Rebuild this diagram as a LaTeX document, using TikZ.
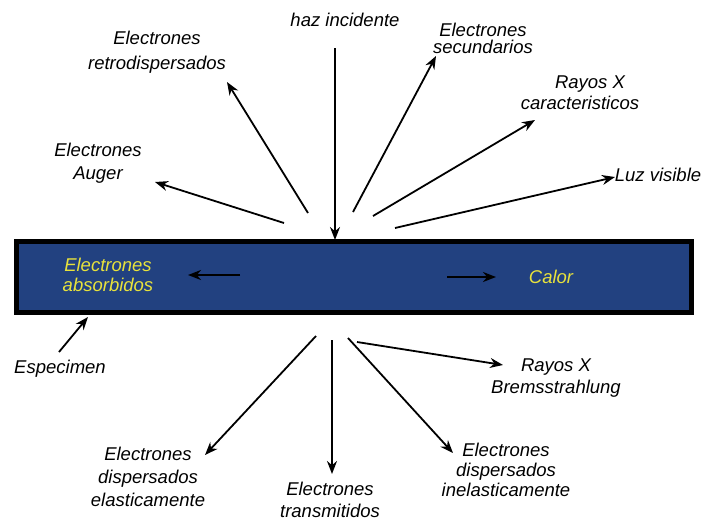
\documentclass[tikz,border=0pt]{standalone}
\usepackage{fontspec}
\setmainfont{Liberation Sans}
\usetikzlibrary{positioning, arrows.meta}
\definecolor{muestra}{RGB}{34,65,128}
\definecolor{amarillo}{RGB}{232,226,60}
\newcommand{\lblfont}{\fontsize{18.5}{21}\selectfont\itshape}

\begin{document}
\begin{tikzpicture}
		[x=1pt,y=-1pt,->,>={Stealth[length=13pt,width=10pt]},line width=1.8pt,
		lbl/.style={font=\lblfont,align=center,inner sep=0pt,anchor=base},
		specimen/.style={draw,line width=5pt,fill=muestra,minimum width=675pt,minimum height=71pt,inner sep=0pt}]
		\useasboundingbox (0,0) rectangle (713,520);
		% la muestra
		\node[specimen] (spec) at (354,277) {};
		
		% etiquetas (anclas en la linea base de la ultima linea)
		\node[lbl] (haz) at (345,26.5) {haz incidente};
		\node[lbl] (retro) at (157,69.5) {Electrones\\[4pt]retrodispersados};
		\node[lbl] (secun) at (483,53.5) {Electrones\\[-4pt]secundarios};
		\node[lbl] (rayosc) at (580,109.5) {\hspace*{20pt}Rayos X\\caracteristicos};
		\node[lbl] (luz) at (658,181.5) {Luz visible};
		\node[lbl] (auger) at (98,179.5) {Electrones\\[2pt]Auger};
		\node[lbl,text=amarillo] (absor) at (108,291.5) {Electrones\\[-1pt]absorbidos};
		\node[lbl,text=amarillo] (calor) at (551,283.5) {Calor};
		\node[lbl] (espec) at (60,373.5) {Especimen};
		\node[lbl] (brems) at (556,393.5) {Rayos X\\[1pt]Bremsstrahlung};
		\node[lbl] (elast) at (148,506.5) {Electrones\\[2pt]dispersados\\[2pt]elasticamente};
		\node[lbl] (trans) at (330,517.5) {Electrones\\[1pt]transmitidos};
		\node[lbl] (inela) at (506,496.5) {Electrones\\[-1pt]dispersados\\[-1pt]inelasticamente};
		
		% extremos de las flechas
		\coordinate (haz0) at (335,48);
		\coordinate (haz1) at (335,240);
		\coordinate (auger0) at (284,223);
		\coordinate (auger1) at (155,182);
		\coordinate (retro0) at (308,213);
		\coordinate (retro1) at (227,82);
		\coordinate (secun0) at (353,212);
		\coordinate (secun1) at (436,56);
		\coordinate (rayosc0) at (373,216);
		\coordinate (rayosc1) at (535,120);
		\coordinate (luz0) at (395,228);
		\coordinate (luz1) at (615,177);
		\coordinate (absor0) at (240,275);
		\coordinate (absor1) at (188,275);
		\coordinate (calor0) at (447,277);
		\coordinate (calor1) at (496,277);
		\coordinate (espec0) at (59,352);
		\coordinate (espec1) at (88,317);
		\coordinate (elast0) at (316,336);
		\coordinate (elast1) at (205,455);
		\coordinate (trans0) at (332,340);
		\coordinate (trans1) at (332,474);
		\coordinate (inela0) at (348,338);
		\coordinate (inela1) at (453,453);
		\coordinate (brems0) at (357,342);
		\coordinate (brems1) at (503,365);
		
		\path (haz0) edge (haz1);
		\path (auger0) edge (auger1);
		\path (retro0) edge (retro1);
		\path (secun0) edge (secun1);
		\path (rayosc0) edge (rayosc1);
		\path (luz0) edge (luz1);
		\path[line width=2.4pt] (absor0) edge (absor1);
		\path[line width=2.4pt] (calor0) edge (calor1);
		\path (espec0) edge (espec1);
		\path (elast0) edge (elast1);
		\path (trans0) edge (trans1);
		\path (inela0) edge (inela1);
		\path (brems0) edge (brems1);
		
	\end{tikzpicture}
\end{document}
